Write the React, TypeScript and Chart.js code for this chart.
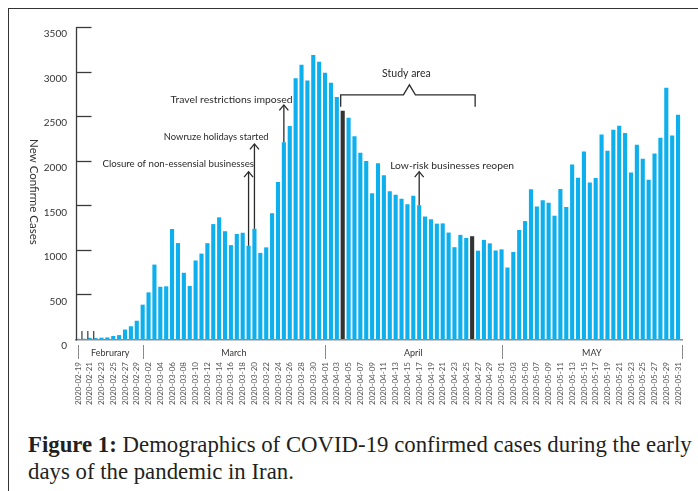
import { useEffect, useRef } from "react";
import { Chart, registerables } from "chart.js";

Chart.register(...registerables);

const dates: string[] = [
  "2020-02-19", "2020-02-20", "2020-02-21", "2020-02-22", "2020-02-23", "2020-02-24", "2020-02-25", "2020-02-26", "2020-02-27", "2020-02-28", "2020-02-29",
  "2020-03-01", "2020-03-02", "2020-03-03", "2020-03-04", "2020-03-05", "2020-03-06", "2020-03-07", "2020-03-08", "2020-03-09", "2020-03-10",
  "2020-03-11", "2020-03-12", "2020-03-13", "2020-03-14", "2020-03-15", "2020-03-16", "2020-03-17", "2020-03-18", "2020-03-19", "2020-03-20",
  "2020-03-21", "2020-03-22", "2020-03-23", "2020-03-24", "2020-03-25", "2020-03-26", "2020-03-27", "2020-03-28", "2020-03-29", "2020-03-30", "2020-03-31",
  "2020-04-01", "2020-04-02", "2020-04-03", "2020-04-04", "2020-04-05", "2020-04-06", "2020-04-07", "2020-04-08", "2020-04-09", "2020-04-10",
  "2020-04-11", "2020-04-12", "2020-04-13", "2020-04-14", "2020-04-15", "2020-04-16", "2020-04-17", "2020-04-18", "2020-04-19", "2020-04-20",
  "2020-04-21", "2020-04-22", "2020-04-23", "2020-04-24", "2020-04-25", "2020-04-26", "2020-04-27", "2020-04-28", "2020-04-29", "2020-04-30",
  "2020-05-01", "2020-05-02", "2020-05-03", "2020-05-04", "2020-05-05", "2020-05-06", "2020-05-07", "2020-05-08", "2020-05-09", "2020-05-10",
  "2020-05-11", "2020-05-12", "2020-05-13", "2020-05-14", "2020-05-15", "2020-05-16", "2020-05-17", "2020-05-18", "2020-05-19", "2020-05-20",
  "2020-05-21", "2020-05-22", "2020-05-23", "2020-05-24", "2020-05-25", "2020-05-26", "2020-05-27", "2020-05-28", "2020-05-29", "2020-05-30", "2020-05-31",
];

const cases: number[] = [
  2, 3, 13, 10, 15, 18, 34, 44, 106, 143, 205,
  385, 523, 835, 586, 591, 1234, 1076, 743, 595, 881,
  958, 1075, 1289, 1365, 1209, 1053, 1178, 1192, 1046, 1237,
  966, 1028, 1411, 1762, 2206, 2389, 2926, 3076, 2901, 3186, 3110,
  2987, 2875, 2715, 2560, 2483, 2274, 2089, 1997, 1634, 1972,
  1837, 1657, 1617, 1574, 1512, 1606, 1499, 1374, 1343, 1294,
  1297, 1194, 1030, 1168, 1134, 1153, 991, 1112, 1073, 993,
  1006, 802, 976, 1223, 1323, 1680, 1485, 1556, 1529, 1383,
  1683, 1481, 1958, 1808, 2102, 1757, 1806, 2294, 2111, 2346,
  2392, 2311, 1869, 2180, 2023, 1787, 2080, 2258, 2819, 2282, 2516,
];

const monthNames: string[] = ["Februrary", "March", "April", "MAY"];
const yTicks: number[] = [0, 500, 1000, 1500, 2000, 2500, 3000, 3500];
const markedDates: string[] = ["2020-02-19", "2020-02-20", "2020-02-21"];
const studyStart = "2020-04-04";
const studyEnd = "2020-04-26";
const studyLabel = "Study area";
const eventDates: string[] = ["2020-03-19", "2020-03-20", "2020-03-25", "2020-04-17"];
const eventTexts: string[] = [
  "Closure of non-essensial businesses",
  "Nowruze holidays started",
  "Travel restrictions imposed",
  "Low-risk businesses reopen",
];
const yTitle = "New Confirme Cases";

// layout (positions in axis units) and font sizes for annotation text/arrow tips
const eventLayout = [
  { textX: 17.05, textY: 1964, tipY: 1877, size: 9.7 },
  { textX: 23.5, textY: 2270, tipY: 2188, size: 9.4 },
  { textX: 26.1, textY: 2682, tipY: 2626, size: 10.4 },
  { textX: 63.6, textY: 1944, tipY: 1877, size: 10.3 },
];
const bracketLayout = { lineY: 2738, endY: 2604, peakY: 2851, textY: 2982 };

const BLUE = "#0db0ec";
const DARK = "#333333";
const SANS = "Lato, 'Liberation Sans', sans-serif";

const overlay = {
  id: "overlay",
  afterDatasetsDraw(chart: any) {
    const { ctx, chartArea: ca } = chart;
    const x = chart.scales.x;
    const y = chart.scales.y;
    const base = y.getPixelForValue(0);
    const line = (x1: number, y1: number, x2: number, y2: number) => {
      ctx.beginPath();
      ctx.moveTo(x1, y1);
      ctx.lineTo(x2, y2);
      ctx.stroke();
    };
    ctx.save();
    // x axis
    ctx.strokeStyle = "#8d8d8d";
    ctx.lineWidth = 1.5;
    line(ca.left, base + 0.75, ca.right + 2, base + 0.75);
    // y axis with inward ticks
    ctx.strokeStyle = "#3a3a3a";
    ctx.lineWidth = 1.3;
    const ax = ca.left + 1.5;
    line(ax, y.getPixelForValue(yTicks[yTicks.length - 1]), ax, base + 1.5);
    yTicks.forEach((v) => {
      if (v === 0) return;
      const py = Math.round(y.getPixelForValue(v)) + 0.5;
      line(ax, py, ax + 15, py);
    });
    // early small marks
    ctx.lineWidth = 1.2;
    markedDates.forEach((d) => {
      const px = x.getPixelForValue(dates.indexOf(d)) + 4;
      line(px, base, px, base - 8);
    });
    // month row
    const starts: number[] = [];
    dates.forEach((d, i) => {
      if (i === 0 || d.slice(5, 7) !== dates[i - 1].slice(5, 7)) starts.push(i);
    });
    const seps = starts.map((i) => x.getPixelForValue(i));
    seps.push(ca.right + 1);
    ctx.strokeStyle = "#8a8a8a";
    ctx.lineWidth = 1;
    seps.forEach((sx) => line(Math.round(sx) + 0.5, base + 6, Math.round(sx) + 0.5, base + 20));
    ctx.fillStyle = "#333";
    ctx.font = `9px ${SANS}`;
    ctx.textAlign = "center";
    ctx.textBaseline = "middle";
    monthNames.forEach((m, k) => ctx.fillText(m, (seps[k] + seps[k + 1]) / 2, base + 14));
    // y title
    ctx.save();
    ctx.translate(34, y.getPixelForValue(1650));
    ctx.rotate(Math.PI / 2);
    ctx.font = `11.5px ${SANS}`;
    ctx.fillStyle = "#333";
    ctx.fillText(yTitle, 0, 0);
    ctx.restore();
    // event annotations
    ctx.fillStyle = "#2a2a2a";
    ctx.strokeStyle = "#2a2a2a";
    ctx.lineWidth = 1.3;
    eventDates.forEach((d, k) => {
      const idx = dates.indexOf(d);
      const lay = eventLayout[k];
      ctx.font = `${lay.size}px ${SANS}`;
      ctx.fillText(eventTexts[k], x.getPixelForValue(lay.textX), y.getPixelForValue(lay.textY));
      const px = x.getPixelForValue(idx);
      const tip = y.getPixelForValue(lay.tipY);
      const bot = y.getPixelForValue(cases[idx]);
      line(px, bot, px, tip);
      ctx.beginPath();
      ctx.moveTo(px - 4.5, tip + 5.5);
      ctx.lineTo(px, tip);
      ctx.lineTo(px + 4.5, tip + 5.5);
      ctx.stroke();
    });
    // study area bracket
    const i0 = dates.indexOf(studyStart);
    const i1 = dates.indexOf(studyEnd);
    const bl = x.getPixelForValue(i0) - 2;
    const br = x.getPixelForValue(i1) + 3;
    const bm = (x.getPixelForValue(i0) + x.getPixelForValue(i1)) / 2 + 2;
    const ly = y.getPixelForValue(bracketLayout.lineY);
    const ey = y.getPixelForValue(bracketLayout.endY);
    const pk = y.getPixelForValue(bracketLayout.peakY);
    ctx.beginPath();
    ctx.moveTo(bl, ey);
    ctx.lineTo(bl, ly);
    ctx.lineTo(bm - 6, ly);
    ctx.lineTo(bm, pk);
    ctx.lineTo(bm + 6, ly);
    ctx.lineTo(br, ly);
    ctx.lineTo(br, ey);
    ctx.stroke();
    ctx.font = `10.5px ${SANS}`;
    ctx.fillText(studyLabel, bm - 3, y.getPixelForValue(bracketLayout.textY));
    ctx.restore();
  },
};

export default function App() {
  const ref = useRef<HTMLCanvasElement>(null);
  useEffect(() => {
    if (!ref.current) return;
    const chart = new Chart(ref.current, {
      type: "bar",
      data: {
        labels: dates,
        datasets: [
          {
            data: cases,
            backgroundColor: dates.map((d) => (d === studyStart || d === studyEnd ? DARK : BLUE)),
            barPercentage: 0.7,
            categoryPercentage: 1,
          },
        ],
      },
      options: {
        animation: false,
        responsive: false,
        devicePixelRatio: 1,
        layout: { padding: { left: 0, right: 17, top: 27, bottom: 0 } },
        plugins: { legend: { display: false }, tooltip: { enabled: false } },
        scales: {
          x: {
            grid: { display: false, drawTicks: false },
            border: { display: false },
            ticks: {
              autoSkip: false,
              minRotation: 90,
              maxRotation: 90,
              padding: 23,
              color: "#555",
              font: { family: SANS, size: 8 },
              callback: (_v: any, i: number) => (i % 2 === 0 ? dates[i] : ""),
            },
            afterFit: (s: any) => {
              s.height = 81;
              s.paddingLeft = 0;
              s.paddingRight = 0;
            },
          },
          y: {
            min: 0,
            max: 3500,
            grid: { display: false, drawTicks: false },
            border: { display: false },
            ticks: {
              stepSize: 500,
              padding: 8,
              labelOffset: 7,
              color: "#333",
              font: { family: SANS, size: 10 },
              callback: (v: any) => String(v),
            },
            afterFit: (s: any) => {
              s.width = 75;
              s.paddingTop = 0;
              s.paddingBottom = 0;
            },
          },
        },
      },
      plugins: [overlay],
    });
    return () => chart.destroy();
  }, []);

  return (
    <div style={{ position: "absolute", left: 0, top: 0, width: 698, height: 491, overflow: "hidden", background: "#fff" }}>
      <div
        style={{
          position: "absolute",
          left: 8,
          top: 8,
          width: 720,
          height: 520,
          borderTop: "1.5px solid #333",
          borderLeft: "1.5px solid #333",
        }}
      />
      <canvas ref={ref} width={698} height={420} style={{ position: "absolute", left: 0, top: 0, width: 698, height: 420 }} />
      <div
        style={{
          position: "absolute",
          left: 28,
          top: 431,
          fontFamily: "'Liberation Serif', serif",
          fontSize: 22.8,
          lineHeight: "27px",
          color: "#231f20",
          whiteSpace: "nowrap",
        }}
      >
        <b>Figure 1:</b> Demographics of COVID-19 confirmed cases during the early
        <br />
        days of the pandemic in Iran.
      </div>
    </div>
  );
}
